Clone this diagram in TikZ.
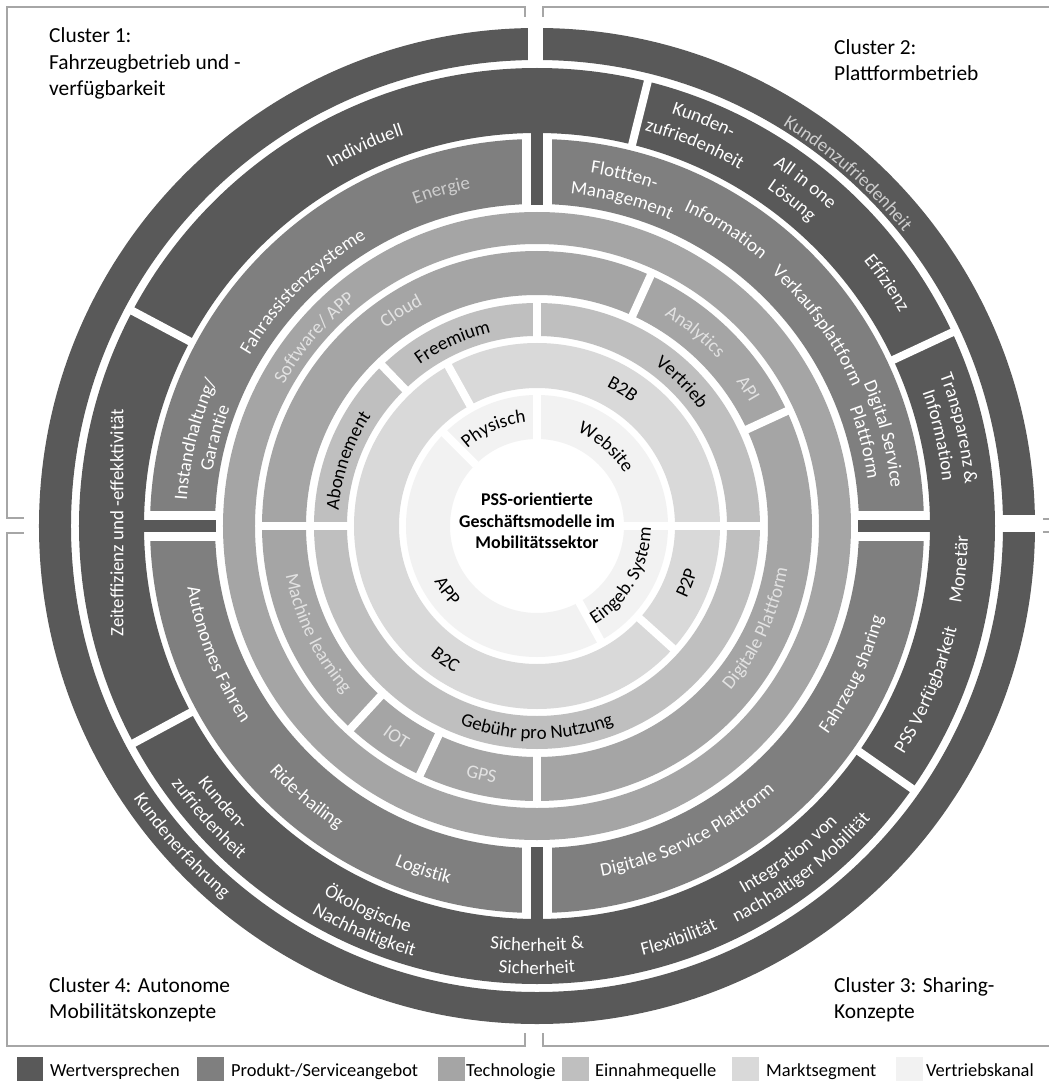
\documentclass[tikz,border=0pt]{standalone}
\usepackage{fontspec}
\setmainfont{Carlito}
\usetikzlibrary{decorations.text}

\definecolor{cWert}{HTML}{595959}
\definecolor{cProd}{HTML}{7F7F7F}
\definecolor{cTech}{HTML}{A5A5A5}
\definecolor{cEinn}{HTML}{BFBFBF}
\definecolor{cMarkt}{HTML}{D9D9D9}
\definecolor{cVertr}{HTML}{F2F2F2}
\definecolor{cFrame}{HTML}{A6A6A6}
\definecolor{cPale}{HTML}{CDCDCD}
\definecolor{cLight}{HTML}{E2E2E2}

\newcommand{\lblfont}{\fontsize{19}{23}\selectfont}
\newcommand{\clusterfont}{\fontsize{21.5}{26}\selectfont}
\newcommand{\legendfont}{\fontsize{18.5}{22}\selectfont}

% full ring between two radii
\newcommand{\annulus}[3]{\fill[#3, even odd rule] (0,0) circle[radius=#2] (0,0) circle[radius=#1];}
% white radial separator: angle, inner radius, outer radius, width
\newcommand{\radcut}[4]{\draw[white, line width=#4] ({#1}:{#2-1}) -- ({#1}:{#3+1});}
% curved label, letters pointing away from the centre (upper half)
\newcommand{\toplabel}[4]{\path[decorate, decoration={text along path, text align=center,
    text={|\lblfont\color{#3}|#4}}]
    ({#1+70}:{#2-6}) arc[start angle={#1+70}, end angle={#1-70}, radius={#2-6}];}
% curved label, letters pointing towards the centre (lower half)
\newcommand{\botlabel}[4]{\path[decorate, decoration={text along path, text align=center,
    text={|\lblfont\color{#3}|#4}}]
    ({#1-70}:{#2+6}) arc[start angle={#1-70}, end angle={#1+70}, radius={#2+6}];}

\tikzset{
  frameline/.style={draw=cFrame, line width=2},
  clusterlbl/.style={anchor=base west, inner sep=0, font=\clusterfont},
  legendlbl/.style={anchor=base west, inner sep=0, font=\legendfont},
}

\begin{document}
\begin{tikzpicture}[x=1bp, y=1bp]
\fill[white] (-537,-556) rectangle (512,526);
\useasboundingbox (-537,-556) rectangle (512,526);
\clip (-537,-556) rectangle (512,526);

% ---------- rings ----------
\annulus{87}{131}{cVertr}
\annulus{138}{183}{cMarkt}
\annulus{190}{223}{cEinn}
\annulus{231}{275}{cTech}
\annulus{282}{314}{cTech}
\annulus{322}{387}{cProd}
\annulus{393}{458}{cWert}
\annulus{466}{498}{cWert}

% ---------- separators ----------
% Vertriebskanal
\radcut{0}{87}{131}{9}\radcut{90}{87}{131}{9}\radcut{135}{87}{131}{8}\radcut{299}{87}{131}{8}
% Marktsegment
\radcut{0}{138}{183}{9}\radcut{119}{138}{183}{8}\radcut{318}{138}{183}{8}
% Einnahmequelle
\radcut{0}{190}{223}{9}\radcut{90}{190}{223}{9}\radcut{180}{190}{223}{9}\radcut{134}{190}{223}{8}
% Technologie (inner)
\radcut{180}{231}{275}{8}\radcut{270}{231}{275}{8}\radcut{65.6}{231}{275}{8}
\radcut{24.7}{231}{275}{8}\radcut{227.4}{231}{275}{8}\radcut{244.8}{231}{275}{8}
% Wertversprechen (inner ring)
\radcut{25}{393}{458}{8}\radcut{76}{393}{458}{8}\radcut{152}{393}{458}{8}
\radcut{208.3}{393}{458}{8}\radcut{325}{393}{458}{8}
% Wertversprechen (outer ring)
\draw[white, line width=15] (-1.5,462) -- (-1.5,502);
\draw[white, line width=17] (462,2.5) -- (502,2.5);
% Produkt quadrants with connecting bars
\foreach \a in {0,90,180,270} {\radcut{\a}{321}{388}{31}}
\foreach \a in {0,90,180,270} {\draw[cWert, line width=12] (\a:321) -- (\a:395);}

% ---------- cluster frames ----------
\draw[frameline] (-513,8) -- (-530,8) -- (-530,519) -- (-12,519) -- (-12,509);
\draw[frameline] (6,509) -- (6,519) -- (530,519);
\draw[frameline] (506,7) -- (530,7);
\draw[frameline] (506,-6) -- (530,-6);
\draw[frameline] (6,-507) -- (6,-520) -- (530,-520);
\draw[frameline] (-513,-7) -- (-530,-7) -- (-530,-520) -- (-12,-520) -- (-12,-507);

% ---------- cluster titles ----------
\node[clusterlbl] (c1a) at (-488,483) {Cluster 1:};
\node[clusterlbl] (c1b) at (-488,456) {Fahrzeugbetrieb und -};
\node[clusterlbl] (c1c) at (-488,430) {verfügbarkeit};
\node[clusterlbl] (c2a) at (297,471) {Cluster 2:};
\node[clusterlbl] (c2b) at (297,445) {Plattformbetrieb};
\node[clusterlbl] (c3a) at (297,-466) {Cluster 3: Sharing-};
\node[clusterlbl] (c3b) at (297,-492) {Konzepte};
\node[clusterlbl] (c4a) at (-488,-466) {Cluster 4: Autonome};
\node[clusterlbl] (c4b) at (-488,-492) {Mobilitätskonzepte};

% ---------- centre ----------
\node[align=center, inner sep=0, font=\bfseries\fontsize{18}{21.5}\selectfont] (core) at (0,5)
  {PSS-orientierte\\Geschäftsmodelle im\\Mobilitätssektor};

% ---------- Wertversprechen labels ----------
\toplabel{48.6}{476}{cPale}{Kundenzufriedenheit}
\botlabel{222}{481}{white}{Kundenerfahrung}
\toplabel{114.3}{419}{white}{Individuell}
\toplabel{67.7}{440}{white}{Kunden-}
\toplabel{67.6}{416}{white}{zufriedenheit}
\toplabel{52}{437}{white}{All in one}
\toplabel{51.9}{414}{white}{Lösung}
\toplabel{34.8}{427}{white}{Effizienz}
\toplabel{13}{436}{white}{Transparenz {\&}}
\toplabel{12.7}{414}{white}{Information}
\botlabel{354.2}{425}{white}{Monetär}
\botlabel{337.2}{426}{white}{PSS Verfügbarkeit}
\botlabel{307.4}{416}{white}{Integration von}
\botlabel{307.7}{438}{white}{nachhaltiger Mobilität}
\botlabel{289}{436}{white}{Flexibilität}
\botlabel{270}{419}{white}{Sicherheit {\&}}
\botlabel{270}{442}{white}{Sicherheit}
\botlabel{246.2}{420}{white}{Ökologische}
\botlabel{246.9}{442}{white}{Nachhaltigkeit}
\botlabel{221.4}{419}{white}{Kunden-}
\botlabel{221.7}{441}{white}{zufriedenheit}
\node[rotate=90, inner sep=0, font=\lblfont, text=white] (zeit) at (-420,3)
  {Zeiteffizienz und -effekktivität};

% ---------- Produkt-/Serviceangebot labels ----------
\toplabel{105.9}{350}{cPale}{Energie}
\toplabel{135}{340}{white}{Fahrassistenzsysteme}
\toplabel{165.8}{357}{white}{Instandhaltung/}
\toplabel{164.7}{335}{white}{Garantie}
\toplabel{76}{363}{white}{Flottten-}
\toplabel{75.4}{340}{white}{Management}
\toplabel{57.5}{354}{white}{Information}
\toplabel{35.5}{351}{white}{Verkaufsplattform}
\toplabel{14.8}{362}{white}{Digital Service}
\toplabel{14.3}{340}{white}{Plattform}
\botlabel{334.8}{352}{white}{Fahrzeug sharing}
\botlabel{296.2}{350}{white}{Digitale Service Plattform}
\botlabel{251.7}{362}{white}{Logistik}
\botlabel{229.6}{357}{white}{Ride-hailing}
\botlabel{201.9}{349}{white}{Autonomes Fahren}

% ---------- Technologie labels ----------
\toplabel{139.8}{296}{cLight}{Software/ APP}
\toplabel{122.3}{255}{cLight}{Cloud}
\toplabel{50.8}{252}{cLight}{Analytics}
\toplabel{33}{252}{cLight}{API}
\botlabel{335}{248}{cLight}{Digitale Plattform}
\botlabel{206}{250}{cLight}{Machine learning}
\botlabel{236.4}{254}{cLight}{IOT}
\botlabel{257.4}{254}{cLight}{GPS}

% ---------- Einnahmequelle labels ----------
\toplabel{114.7}{205}{black}{Freemium}
\toplabel{161}{205}{black}{Abonnement}
\toplabel{44.8}{206}{black}{Vertrieb}
\botlabel{270}{207}{black}{Gebühr pro Nutzung}

% ---------- Marktsegment labels ----------
\toplabel{58}{162}{black}{B2B}
\botlabel{339.3}{160}{black}{P2P}
\botlabel{235.6}{162}{black}{B2C}

% ---------- Vertriebskanal labels ----------
\toplabel{114}{110}{black}{Physisch}
\toplabel{48.9}{108}{black}{Website}
\botlabel{329.8}{108}{black}{Eingeb. System}
\botlabel{216}{111}{black}{APP}

% ---------- legend ----------
\fill[cWert]  (-520,-531) rectangle (-494,-555);
\node[legendlbl] (lg1) at (-487,-550) {Wertversprechen};
\fill[cProd]  (-340,-531) rectangle (-313,-555);
\node[legendlbl] (lg2) at (-306,-550) {Produkt-/Serviceangebot};
\fill[cTech]  (-99,-531) rectangle (-72,-555);
\node[legendlbl] (lg3) at (-71,-550) {Technologie};
\fill[cEinn]  (25,-531) rectangle (52,-555);
\node[legendlbl] (lg4) at (58,-550) {Einnahmequelle};
\fill[cMarkt] (195,-531) rectangle (222,-555);
\node[legendlbl] (lg5) at (229,-550) {Marktsegment};
\fill[cVertr] (359,-531) rectangle (386,-555);
\node[legendlbl] (lg6) at (389,-550) {Vertriebskanal};
\end{tikzpicture}
\end{document}
